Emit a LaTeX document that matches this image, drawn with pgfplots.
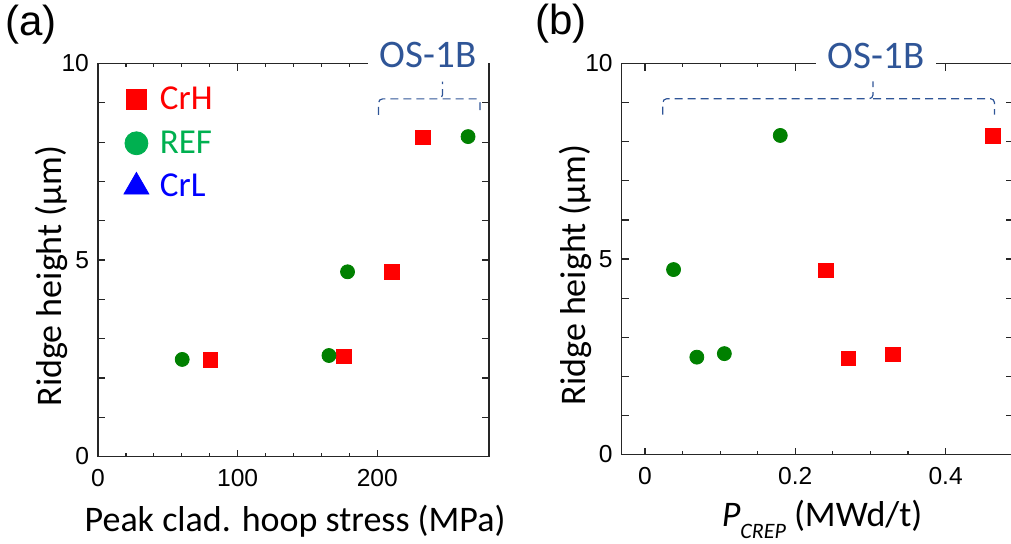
\documentclass[border=0pt]{standalone}
\usepackage{fontspec}
\setmainfont{Carlito}
\newfontfamily\arialfont{Liberation Sans}
\usepackage{pgfplots}
\pgfplotsset{compat=1.18}

\definecolor{crh}{HTML}{FF0000}
\definecolor{refdark}{HTML}{008000}
\definecolor{reflight}{HTML}{00B050}
\definecolor{crl}{HTML}{0000FF}
\definecolor{osblue}{HTML}{2F5597}

\pgfplotsset{
  ridge/.style={
    scale only axis, anchor=south west, clip=false,
    ymin=0, ymax=10, ytick={0,1,...,10}, yticklabels={0,,,,,5,,,,,10},
    tick align=inside, major tick length=3.5pt, minor tick length=1.8pt,
    axis line style={black!85, line width=0.7pt},
    tick style={black!85, line width=0.6pt},
    tick label style={font=\arialfont\fontsize{12.3}{14}\selectfont, black},
    /pgf/number format/assume math mode=true,
    label style={font=\fontsize{18}{21}\selectfont},
    ylabel={Ridge height (µm)},
    xticklabel style={yshift=-3pt},
    yticklabel style={xshift=-1pt},
  },
  crhmark/.style={only marks, mark=square*, color=crh, mark size=3.67pt, mark options={draw=none}},
  refmark/.style={only marks, mark=*, color=refdark, mark size=3.5pt, mark options={draw=none}},
}
\tikzset{
  brace/.style={osblue, line width=0.6pt, dash pattern=on 4pt off 2.5pt, rounded corners=2pt},
  oslabel/.style={font=\fontsize{19.5}{23}\selectfont, text=osblue, fill=white,
    inner xsep=6pt, inner ysep=4pt, anchor=base},
  panel/.style={font=\arialfont\fontsize{21}{25}\selectfont, anchor=center},
}

\begin{document}
\begin{tikzpicture}
\useasboundingbox (0,0) rectangle (505.5pt,271.5pt);

% (a) ridge height versus peak cladding hoop stress
\begin{axis}[ridge,
  at={(49pt,43.25pt)}, width=195.5pt, height=196.5pt,
  xmin=0, xmax=280, xtick={0,100,200}, minor x tick num=4,
  xlabel={Peak clad. hoop stress (MPa)},
  xlabel style={at={(axis description cs:0.504,-0.191)}, anchor=base},
  ylabel style={at={(axis description cs:-0.118,0.459)}, anchor=center},
  legend style={at={(axis description cs:0.050,0.962)}, anchor=north west,
    draw=none, fill=none, font=\fontsize{17.5}{21}\selectfont,
    row sep=5pt, column sep=3.5pt},
  legend cell align=left,
]
\addplot[crhmark, forget plot] coordinates {(80.4,2.45) (176.1,2.55) (210.7,4.69) (232.9,8.12)};
\addplot[refmark, forget plot] coordinates {(60.3,2.47) (165.4,2.57) (178.7,4.70) (265,8.14)};

\addlegendimage{only marks, mark=square*, color=crh, mark size=5pt, mark options={draw=none}}
\addlegendentry{\textcolor{crh}{CrH}}
\addlegendimage{only marks, mark=*, color=reflight, mark size=5.75pt, mark options={draw=none}}
\addlegendentry{\textcolor{reflight}{REF}}
\addlegendimage{only marks, mark=triangle*, color=crl, mark size=7.2pt, mark options={draw=none}}
\addlegendentry{\textcolor{crl}{CrL}}

\draw[brace] (axis cs:200.9,8.69) -- (axis cs:200.9,9.10) -- (axis cs:246.7,9.10) -- (axis cs:246.7,9.54);
\draw[brace] (axis cs:246.7,9.10) -- (axis cs:273.6,9.10) -- (axis cs:273.6,8.69);
\node[oslabel] at (axis description cs:0.844,0.991) {OS-1B};
\node[panel] at (axis description cs:-0.171,1.100) {(a)};
\end{axis}

% (b) ridge height versus P_CREP
\begin{axis}[ridge,
  at={(310.85pt,44.25pt)}, width=195.65pt, height=195.5pt,
  xmin=-0.031, xmax=0.4897, xtick={0,0.2,0.4}, minor x tick num=3,
  xlabel={\textit{P}\raisebox{-6pt}{\fontsize{11}{13}\selectfont\itshape CREP} (MWd/t)},
  xlabel style={at={(axis description cs:0.512,-0.185)}, anchor=base},
  ylabel style={at={(axis description cs:-0.119,0.459)}, anchor=center},
]
\addplot[crhmark] coordinates {(0.241,4.71) (0.2706,2.46) (0.3296,2.56) (0.463,8.15)};
\addplot[refmark] coordinates {(0.038,4.73) (0.069,2.49) (0.1056,2.58) (0.180,8.16)};

\draw[brace] (axis cs:0.0237,8.69) -- (axis cs:0.0237,9.10) -- (axis cs:0.3035,9.10) -- (axis cs:0.3035,9.54);
\draw[brace] (axis cs:0.3035,9.10) -- (axis cs:0.4651,9.10) -- (axis cs:0.4651,8.69);
\node[oslabel] at (axis description cs:0.650,0.988) {OS-1B};
\node[panel] at (axis description cs:-0.155,1.101) {(b)};
\end{axis}
\end{tikzpicture}
\end{document}
